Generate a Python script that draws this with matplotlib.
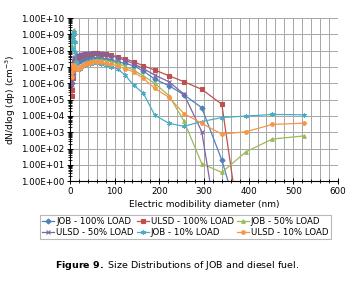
import numpy as np
import matplotlib
matplotlib.use("Agg")
import matplotlib.pyplot as plt
from matplotlib.ticker import MultipleLocator, LogLocator, FixedLocator

# particle diameter channels (nm)
diam = [4.5, 5.2, 6.0, 6.9, 8.0, 9.2, 10.7, 12.3, 14.2, 16.4, 19.0, 21.9, 25.3,
        29.2, 33.7, 39.0, 45.0, 52.0, 60.0, 69.3, 80.1, 92.5, 106.8, 123.3,
        142.4, 164.5, 190, 222, 255, 295, 340, 394, 453, 525]

nan = np.nan
job_100 = [1.0e6, 2.0e6, 4.0e6, 7.1e6, 1.0e7, 1.26e7, 1.4e7, 1.6e7, 1.8e7, 2.0e7,
           2.2e7, 2.5e7, 2.75e7, 2.95e7, 3.2e7, 3.3e7, 3.5e7, 3.55e7, 3.55e7,
           3.4e7, 3.0e7, 2.6e7, 2.1e7, 1.66e7, 1.2e7, 5.6e6, 1.8e6, 7.1e5,
           2.0e5, 3.2e4, 19.5, 2.0e-4, nan, nan]
ulsd_100 = [1.7e5, 4.0e5, 2.0e6, 6.3e6, 1.26e7, 2.0e7, 2.5e7, 3.2e7, 3.5e7,
            4.0e7, 4.5e7, 4.8e7, 5.2e7, 5.6e7, 6.0e7, 6.3e7, 6.6e7, 6.8e7,
            6.8e7, 6.6e7, 6.0e7, 5.2e7, 4.3e7, 3.2e7, 2.1e7, 1.2e7, 6.5e6,
            2.9e6, 1.26e6, 4.3e5, 5.2e4, 3.0e-6, nan, nan]
job_50 = [2.0e8, 5.0e8, 1.0e9, 1.6e9, 1.8e9, 1.26e9, 4.0e8, 1.0e8, 2.5e7,
          1.0e7, 7.9e6, 8.9e6, 1.1e7, 1.4e7, 1.8e7, 2.1e7, 2.4e7, 2.6e7,
          2.75e7, 2.7e7, 2.5e7, 2.1e7, 1.66e7, 1.1e7, 6.5e6, 2.8e6, 1.0e6,
          1.7e5, 5.0e3, 12.0, 3.4, 63.0, 380.0, 600.0]
ulsd_50 = [8.0e5, 2.5e6, 7.9e6, 1.6e7, 2.5e7, 3.2e7, 3.5e7, 4.0e7, 4.5e7,
           4.8e7, 5.2e7, 5.6e7, 6.0e7, 6.3e7, 6.6e7, 6.9e7, 7.1e7, 7.2e7,
           7.1e7, 6.8e7, 6.0e7, 5.0e7, 3.8e7, 2.6e7, 1.6e7, 7.9e6, 3.2e6,
           1.23e6, 2.2e5, 1.1e3, 3.0e-5, nan, nan, nan]
job_10 = [1.26e8, 3.2e8, 7.1e8, 1.1e9, 1.4e9, 1.0e9, 3.2e8, 7.9e7, 2.0e7,
          8.9e6, 7.1e6, 7.9e6, 1.0e7, 1.2e7, 1.4e7, 1.5e7, 1.6e7, 1.66e7,
          1.66e7, 1.6e7, 1.35e7, 1.05e7, 7.6e6, 3.2e6, 7.8e5, 2.4e5, 1.1e4,
          3.5e3, 2.3e3, 4.5e3, 7.9e3, 9.8e3, 1.23e4, 1.17e4]
ulsd_10 = [2.5e6, 5.0e6, 8.9e6, 1.26e7, 1.4e7, 1.26e7, 1.0e7, 8.9e6, 7.9e6,
           7.6e6, 7.9e6, 8.9e6, 1.05e7, 1.26e7, 1.45e7, 1.66e7, 1.8e7, 2.0e7,
           2.1e7, 2.0e7, 1.8e7, 1.5e7, 1.15e7, 7.9e6, 5.0e6, 2.0e6, 4.9e5,
           1.35e5, 1.4e4, 3.5e3, 760.0, 1.07e3, 3.0e3, 3.6e3]

series = [
    ("JOB - 100% LOAD", job_100, "#4F81BD", "D"),
    ("ULSD - 100% LOAD", ulsd_100, "#C0504D", "s"),
    ("JOB - 50% LOAD", job_50, "#9BBB59", "^"),
    ("ULSD - 50% LOAD", ulsd_50, "#8064A2", "x"),
    ("JOB - 10% LOAD", job_10, "#4BACC6", (6, 2, 0)),
    ("ULSD - 10% LOAD", ulsd_10, "#F79646", "o"),
]

fig = plt.figure(figsize=(3.55, 2.83), dpi=100)
ax = fig.add_axes([0.197, 0.360, 0.755, 0.576])

handles = {}
for name, vals, col, mk in series:
    ms = 2.6 if mk in ("D", "s", "^", "o") else 3.2
    h, = ax.plot(diam, vals, color=col, lw=0.9, marker=mk, ms=ms,
                 mew=0.8, label=name)
    handles[name] = h

ax.set_yscale("log")
ax.set_xlim(0, 600)
ax.set_ylim(1, 1e10)

ax.xaxis.set_major_locator(MultipleLocator(100))
ax.xaxis.set_minor_locator(MultipleLocator(20))
ax.yaxis.set_major_locator(LogLocator(base=10, numticks=20))
ax.yaxis.set_minor_locator(LogLocator(base=10, subs=np.arange(2, 10), numticks=20))
ax.set_yticks([10.0 ** k for k in range(11)])
ax.set_yticklabels(["1.00E+%02d" % k for k in range(11)])
ax.set_ylim(1, 1e10)

ax.grid(True, which="major", axis="y", color="#A6A6A6", lw=0.7)
ax.grid(True, which="both", axis="x", color="#A6A6A6", lw=0.7)
ax.set_axisbelow(True)
for s in ("top", "right"):
    ax.spines[s].set_visible(False)
for s in ("left", "bottom"):
    ax.spines[s].set_color("black")
    ax.spines[s].set_linewidth(0.8)

ax.tick_params(which="major", direction="inout", length=4, width=0.7,
               labelsize=6.3, pad=2)
ax.tick_params(which="minor", direction="inout", length=3, width=0.6)

ax.set_xlabel("Electric modibility diameter (nm)", fontsize=6.5, labelpad=3)
ax.set_ylabel("dN/dlog (dp) (cm$^{-3}$)", fontsize=6.5, labelpad=2)

order = ["JOB - 100% LOAD", "ULSD - 50% LOAD", "ULSD - 100% LOAD",
         "JOB - 10% LOAD", "JOB - 50% LOAD", "ULSD - 10% LOAD"]
leg = fig.legend([handles[n] for n in order], order, ncol=3,
                 loc="center", bbox_to_anchor=(0.522, 0.198),
                 fontsize=6.2, frameon=True, fancybox=False,
                 handlelength=1.4, handletextpad=0.2, columnspacing=0.4,
                 borderpad=0.3, labelspacing=0.15)
leg.get_frame().set_edgecolor("#A6A6A6")
leg.get_frame().set_linewidth(0.8)

fig.text(0.5, 0.063, r"$\bf{Figure\ 9.}$ Size Distributions of JOB and diesel fuel.",
         ha="center", va="center", fontsize=6.8)

fig.savefig("out.png", dpi=100)
